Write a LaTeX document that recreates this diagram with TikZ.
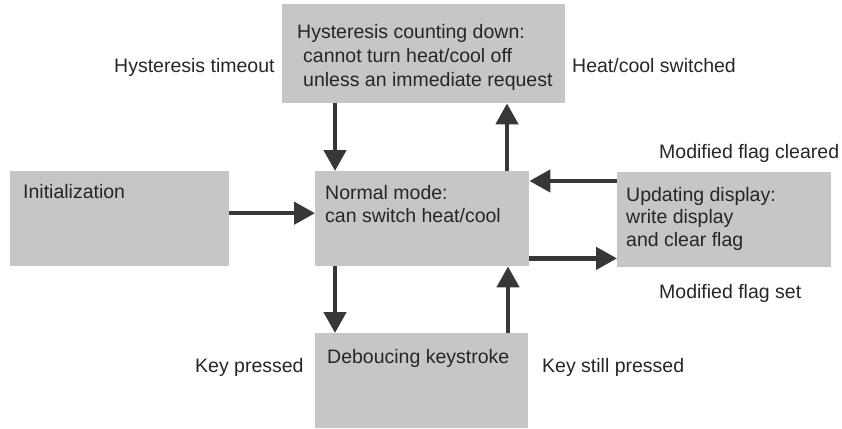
\documentclass[tikz,border=0pt]{standalone}
\usepackage{fontspec}
\setmainfont{Liberation Sans}
\usetikzlibrary{arrows.meta}
\definecolor{boxgray}{RGB}{198,198,198}
\definecolor{arrowgray}{RGB}{55,55,55}
\definecolor{txtgray}{RGB}{38,38,38}
\tikzset{
  statebox/.style={fill=boxgray, draw=none, inner sep=0pt, anchor=north west},
  txt/.style={text=txtgray, inner sep=0pt, anchor=base west, font=\fontsize{19.5}{23}\selectfont},
  arr/.style={draw=arrowgray, line width=4.5pt, -{Triangle[length=21pt,width=22pt]}, shorten >=0pt}
}
\begin{document}
\begin{tikzpicture}[x=1pt,y=-1pt]
\useasboundingbox (0,0) rectangle (842,428);
% boxes
\node[statebox, minimum width=283pt, minimum height=99pt] (hyst) at (282,4) {};
\node[statebox, minimum width=219pt, minimum height=95pt] (init) at (10,171) {};
\node[statebox, minimum width=214pt, minimum height=95pt] (normal) at (315,171) {};
\node[statebox, minimum width=214pt, minimum height=95pt] (upd) at (617,172) {};
\node[statebox, minimum width=213pt, minimum height=95pt] (deb) at (315,333) {};
% box texts
\node[txt] (h1) at (297,39) {Hysteresis counting down:};
\node[txt] (h2) at (303,63) {cannot turn heat/cool off};
\node[txt] (h3) at (303,86) {unless an immediate request};
\node[txt] (i1) at (23,198) {Initialization};
\node[txt] (n1) at (325,199) {Normal mode:};
\node[txt] (n2) at (325,222) {can switch heat/cool};
\node[txt] (u1) at (626,201) {Updating display:};
\node[txt] (u2) at (626,223) {write display};
\node[txt] (u3) at (626,246) {and clear flag};
\node[txt] (d1) at (327,363) {Deboucing keystroke};
% outside labels
\node[txt] (l1) at (114,72) {Hysteresis timeout};
\node[txt] (l2) at (572,72) {Heat/cool switched};
\node[txt] (l3) at (659,158) {Modified flag cleared};
\node[txt] (l4) at (659,298) {Modified flag set};
\node[txt] (l5) at (195,372) {Key pressed};
\node[txt] (l6) at (542,372) {Key still pressed};
% connectors
\draw[arr] ([yshift=5.5pt]init.east) -- ([yshift=5.5pt]normal.west);
\draw[arr] ([xshift=53pt]hyst.south west) -- ([xshift=20pt]normal.north west);
\draw[arr] ([xshift=192pt]normal.north west) -- ([xshift=225pt]hyst.south west);
\draw[arr] ([yshift=-9pt]upd.north west) -- ([yshift=-10pt]normal.north east);
\draw[arr] ([yshift=8pt]normal.south east) -- ([yshift=9pt]upd.south west);
\draw[arr] ([xshift=20pt]normal.south west) -- ([xshift=20pt]deb.north west);
\draw[arr] ([xshift=193pt]deb.north west) -- ([xshift=193pt]normal.south west);
\end{tikzpicture}
\end{document}
